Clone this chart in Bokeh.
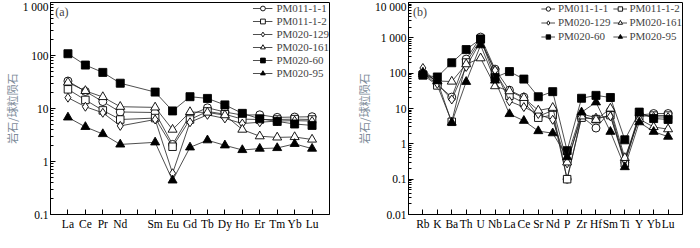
from bokeh.plotting import figure
from bokeh.layouts import row
from bokeh.models import Range1d, FixedTicker, Label
from bokeh.embed import file_html
from bokeh.resources import INLINE

# ---------------- data ----------------
samples = ["PM011-1-1", "PM011-1-2", "PM020-129", "PM020-161", "PM020-60", "PM020-95"]

# (a) chondrite-normalised REE (Pm has no value)
ree_axis = ["La", "Ce", "Pr", "Nd", "Pm", "Sm", "Eu", "Gd", "Tb", "Dy", "Ho", "Er", "Tm", "Yb", "Lu"]
ree_used = ["La", "Ce", "Pr", "Nd", "Sm", "Eu", "Gd", "Tb", "Dy", "Ho", "Er", "Tm", "Yb", "Lu"]
ree_pm011_1_1 = [33, 21, 13.5, 8.6, 8.4, 2.1, 7.5, 10.3, 8.6, 7.5, 7.6, 6.8, 6.9, 7.0]
ree_pm011_1_2 = [23, 14.5, 9.2, 6.2, 6.6, 1.9, 6.2, 8.8, 7.8, 6.3, 6.2, 6.2, 6.3, 6.2]
ree_pm020_129 = [16, 10.8, 8.3, 4.7, 6.2, 0.6, 5.5, 7.6, 6.5, 5.2, 5.5, 5.8, 5.9, 5.8]
ree_pm020_161 = [31, 21.5, 16.5, 10.8, 10.5, 4.0, 8.6, 8.4, 7.5, 4.0, 3.0, 2.85, 2.9, 2.6]
ree_pm020_60 = [108, 66, 48, 30, 20.4, 9.0, 16.7, 15.5, 11.7, 8.1, 6.4, 5.7, 5.1, 4.8]
ree_pm020_95 = [6.8, 4.5, 3.3, 2.1, 2.3, 0.44, 1.85, 2.52, 2.02, 1.65, 1.75, 1.8, 2.15, 1.75]

# (b) primitive-mantle-normalised trace elements
sp_axis = ["Rb", "K", "Ba", "Th", "U", "Nb", "La", "Ce", "Sr", "Nd", "P", "Zr", "Hf", "Sm", "Ti", "Y", "Yb", "Lu"]
sp_pm011_1_1 = [100, 48, 21, 250, 1050, 130, 33, 21, 6.0, 8.8, 0.10, 6.0, 2.8, 8.5, 0.30, 6.5, 7.2, 7.2]
sp_pm011_1_2 = [90, 45, 4.2, 200, 900, 110, 23, 14.5, 5.5, 6.5, 0.10, 5.5, 5.0, 6.5, 0.28, 6.0, 6.3, 6.3]
sp_pm020_129 = [140, 50, 18, 150, 800, 120, 16, 11, 7.0, 4.8, 0.28, 7.0, 5.5, 6.0, 0.35, 6.8, 5.8, 5.7]
sp_pm020_161 = [95, 60, 58, 180, 265, 43, 31, 20, 8.8, 10.5, 0.30, 6.0, 4.8, 10, 0.40, 5.0, 3.0, 2.6]
sp_pm020_60 = [88, 78, 197, 465, 930, 76, 111, 68, 21.5, 30, 0.64, 19.5, 23.5, 20.5, 1.3, 7.9, 5.2, 4.9]
sp_pm020_95 = [105, 60, 4.0, 57, 620, 62, 7.0, 4.5, 2.3, 2.0, 0.42, 7.8, 15, 2.2, 0.22, 4.1, 2.2, 1.6]

ree_series = [ree_pm011_1_1, ree_pm011_1_2, ree_pm020_129, ree_pm020_161, ree_pm020_60, ree_pm020_95]
sp_series = [sp_pm011_1_1, sp_pm011_1_2, sp_pm020_129, sp_pm020_161, sp_pm020_60, sp_pm020_95]

y_ticks_a = [0.1, 1, 10, 100, 1000]
y_labels_a = ["0.1", "1", "10", "100", "1 000"]
y_ticks_b = [0.01, 0.1, 1, 10, 100, 1000, 10000]
y_labels_b = ["0.01", "0.1", "1", "10", "100", "1 000", "10 000"]

# ---------------- styles ----------------
SERIF = "Liberation Serif"
marker_styles = [
    dict(marker="circle", size=8, fill_color="white"),
    dict(marker="square", size=7.5, fill_color="white"),
    dict(marker="diamond", size=9, fill_color="white"),
    dict(marker="triangle", size=9, fill_color="white"),
    dict(marker="square", size=8, fill_color="black"),
    dict(marker="triangle", size=9, fill_color="black"),
]


def minor_list(ticks):
    out = []
    for t in ticks[:-1]:
        out += [t * k for k in range(2, 10)]
    return out


def make_fig(width, x_end, y_ticks, y_labels, x_names, left, right, legend_cols):
    p = figure(width=width, height=232, x_range=Range1d(0, x_end),
               y_range=Range1d(y_ticks[0], y_ticks[-1]), y_axis_type="log",
               output_backend="svg", toolbar_location=None,
               min_border_left=left, min_border_right=right,
               min_border_top=2, min_border_bottom=16)
    p.xgrid.visible = False
    p.ygrid.visible = False
    p.outline_line_color = "black"
    p.outline_line_width = 1
    p.outline_line_alpha = 1
    p.background_fill_color = "white"
    p.border_fill_color = "white"

    xt = list(range(1, len(x_names) + 1))
    p.xaxis.ticker = FixedTicker(ticks=xt)
    p.xaxis.major_label_overrides = {t: ("" if n == "Pm" else n) for t, n in zip(xt, x_names)}
    p.yaxis.ticker = FixedTicker(ticks=y_ticks, minor_ticks=minor_list(y_ticks))
    p.yaxis.major_label_overrides = {t: l for t, l in zip(y_ticks, y_labels)}

    for ax in (p.xaxis[0], p.yaxis[0]):
        ax.axis_line_color = "black"
        ax.major_tick_in = 5
        ax.major_tick_out = 0
        ax.minor_tick_in = 3
        ax.minor_tick_out = 0
        ax.major_tick_line_color = "black"
        ax.minor_tick_line_color = "black"
        ax.major_label_text_font = SERIF
        ax.major_label_text_font_size = "11.5px"
        ax.major_label_text_color = "black"
        ax.major_label_standoff = 3
    p.xaxis.minor_tick_line_color = None
    p.yaxis.major_label_standoff = 2

    p.yaxis.axis_label = "岩石/球粒陨石"
    p.yaxis.axis_label_text_font = "Noto Sans CJK SC"
    p.yaxis.axis_label_text_font_size = "11px"
    p.yaxis.axis_label_text_font_style = "normal"
    p.yaxis.axis_label_text_color = "#7d8b99"
    p.yaxis.axis_label_standoff = 0
    return p


# ---------------- panel (a) ----------------
pa = make_fig(352, len(ree_axis) + 1, y_ticks_a, y_labels_a, ree_axis, 40, 23, 1)
xa = [ree_axis.index(e) + 1 for e in ree_used]
for name, vals, st in zip(samples, ree_series, marker_styles):
    pa.line(xa, vals, line_color="#222222", line_width=0.8, legend_label=name)
    pa.scatter(xa, vals, line_color="black", line_width=0.9, legend_label=name, **st)

pa.add_layout(Label(x=0.27, y=650, text="(a)", text_font=SERIF, text_font_size="12px",
                    text_baseline="middle"))

la = pa.legend[0]
la.location = "top_right"
la.border_line_color = None
la.background_fill_alpha = 0
la.margin = 0
la.padding = 2
la.spacing = 1
la.glyph_width = 20
la.glyph_height = 12
la.label_height = 12
la.label_standoff = 4
la.label_text_font = SERIF
la.label_text_font_size = "11px"

# ---------------- panel (b) ----------------
pb = make_fig(332, len(sp_axis) + 1, y_ticks_b, y_labels_b, sp_axis, 45, 2, 2)
xb = [i + 1 for i in range(len(sp_axis))]
for name, vals, st in zip(samples, sp_series, marker_styles):
    pb.line(xb, vals, line_color="#222222", line_width=0.8, legend_label=name)
    pb.scatter(xb, vals, line_color="black", line_width=0.9, legend_label=name, **st)

pb.add_layout(Label(x=0.32, y=5400, text="(b)", text_font=SERIF, text_font_size="12px",
                    text_baseline="middle"))

lb = pb.legend[0]
lb.location = "top_right"
lb.orientation = "horizontal"
lb.ncols = 2
lb.border_line_color = None
lb.background_fill_alpha = 0
lb.margin = 0
lb.padding = 2
lb.spacing = 2
lb.glyph_width = 14
lb.glyph_height = 11
lb.label_height = 11
lb.label_standoff = 3
lb.label_text_font = SERIF
lb.label_text_font_size = "11px"

layout = row(pa, pb)
open("out.html", "w").write(file_html(layout, INLINE))
